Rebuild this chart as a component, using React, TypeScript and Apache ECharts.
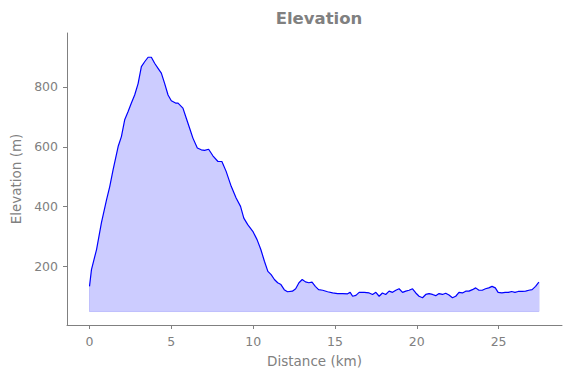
import React, { useEffect, useRef } from "react";
import * as echarts from "echarts";

const distanceKm: number[] = [
  0.0, 0.12, 0.43, 0.73, 1.04, 1.24, 1.44, 1.75, 1.95, 2.15, 2.36, 2.56, 2.76, 2.97, 3.17, 3.37, 3.58, 3.78, 3.98,
  4.19, 4.39, 4.59, 4.8, 5.0, 5.26, 5.41, 5.71, 5.91, 6.12, 6.32, 6.59, 6.83, 7.03, 7.28, 7.54, 7.85, 8.09, 8.35,
  8.66, 8.96, 9.23, 9.43, 9.67, 9.98, 10.24, 10.47, 10.69, 10.9, 11.1, 11.3, 11.5, 11.7, 11.9, 12.1, 12.4, 12.6,
  12.8, 13.0, 13.2, 13.4, 13.6, 13.8, 14.0, 14.25, 14.55, 14.86, 15.16, 15.47, 15.77, 15.93, 16.08, 16.28, 16.48,
  16.79, 17.09, 17.3, 17.5, 17.7, 17.9, 18.1, 18.31, 18.52, 18.72, 18.92, 19.13, 19.33, 19.53, 19.74, 19.94, 20.14,
  20.35, 20.55, 20.75, 20.96, 21.16, 21.36, 21.57, 21.77, 21.97, 22.18, 22.38, 22.58, 22.79, 22.99, 23.19, 23.4,
  23.6, 23.8, 24.0, 24.2, 24.4, 24.6, 24.8, 24.97, 25.2, 25.4, 25.6, 25.8, 26.0, 26.2, 26.45, 26.65, 26.85, 27.05,
  27.26, 27.46,
];

const elevationM: number[] = [
  134, 190, 257, 347, 423, 468, 523, 601, 634, 690, 718, 746, 773, 811, 868, 884, 899, 899, 879,
  862, 846, 812, 773, 754, 746, 746, 729, 696, 662, 629, 596, 590, 588, 592, 570, 551, 551, 518,
  468, 429, 401, 362, 340, 318, 290, 257, 218, 184, 173, 157, 146, 140, 123, 116, 118, 126,
  146, 157, 149, 146, 148, 134, 123, 121, 116, 112, 110, 110, 109, 114, 101, 104, 114,
  114, 112, 107, 114, 101, 112, 107, 118, 114, 121, 126, 114, 118, 121, 126, 112, 101,
  96, 107, 110, 107, 103, 110, 107, 111, 105, 96, 101, 114, 112, 118, 118, 123,
  129, 121, 121, 126, 129, 134, 129, 114, 112, 114, 114, 117, 114, 117, 117, 118, 121, 123,
  134, 148,
];

const fillBase = 50;
const xTicks: number[] = [0, 5, 10, 15, 20, 25];
const yTicks: number[] = [200, 400, 600, 800];

const GRAY = "#808080";

export default function App() {
  const ref = useRef<HTMLDivElement>(null);
  useEffect(() => {
    if (!ref.current) return;
    const chart = echarts.init(ref.current, null, { renderer: "svg" });
    const pts = distanceKm.map((d, i) => [d, elevationM[i]]);
    const n = distanceKm.length;
    const edge = [
      [distanceKm[0], elevationM[0]],
      [distanceKm[0], fillBase],
      [distanceKm[n - 1], fillBase],
      [distanceKm[n - 1], elevationM[n - 1]],
    ];
    chart.setOption({
      animation: false,
      title: {
        text: "Elevation",
        left: 314,
        top: 5,
        textAlign: "center",
        textStyle: { color: GRAY, fontSize: 16.5, fontWeight: "bold", fontFamily: "DejaVu Sans" },
      },
      grid: { left: 67, right: 9, top: 33, bottom: 53, containLabel: false },
      xAxis: {
        type: "value",
        min: -1.375,
        max: 28.875,
        name: "Distance (km)",
        nameLocation: "middle",
        nameGap: 29,
        nameTextStyle: { color: GRAY, fontSize: 13.5, fontFamily: "DejaVu Sans" },
        axisLine: { show: true, onZero: false, lineStyle: { color: GRAY, width: 1 } },
        axisTick: { show: true, length: 4, lineStyle: { color: GRAY }, customValues: xTicks },
        axisLabel: { color: GRAY, fontSize: 12.5, fontFamily: "DejaVu Sans", margin: 10, customValues: xTicks },
        splitLine: { show: false },
      },
      yAxis: {
        type: "value",
        min: 5,
        max: 980,
        name: "Elevation (m)",
        nameLocation: "middle",
        nameGap: 43,
        nameTextStyle: { color: GRAY, fontSize: 13.5, fontFamily: "DejaVu Sans" },
        axisLine: { show: true, onZero: false, lineStyle: { color: GRAY, width: 1 } },
        axisTick: { show: true, length: 4, lineStyle: { color: GRAY }, customValues: yTicks },
        axisLabel: { color: GRAY, fontSize: 12.5, fontFamily: "DejaVu Sans", margin: 9, customValues: yTicks },
        splitLine: { show: false },
      },
      series: [
        {
          type: "line",
          data: pts,
          showSymbol: false,
          symbol: "none",
          lineStyle: { color: "#0000ff", width: 1.2 },
          areaStyle: { color: "#ccccff", opacity: 1, origin: fillBase },
          z: 3,
        },
        {
          type: "line",
          data: edge,
          showSymbol: false,
          symbol: "none",
          lineStyle: { color: "#b3b3fa", width: 1 },
          z: 2,
          silent: true,
        },
      ],
    });
    return () => chart.dispose();
  }, []);
  return <div ref={ref} style={{ width: 571, height: 378, position: "absolute", left: 0, top: 0 }} />;
}
